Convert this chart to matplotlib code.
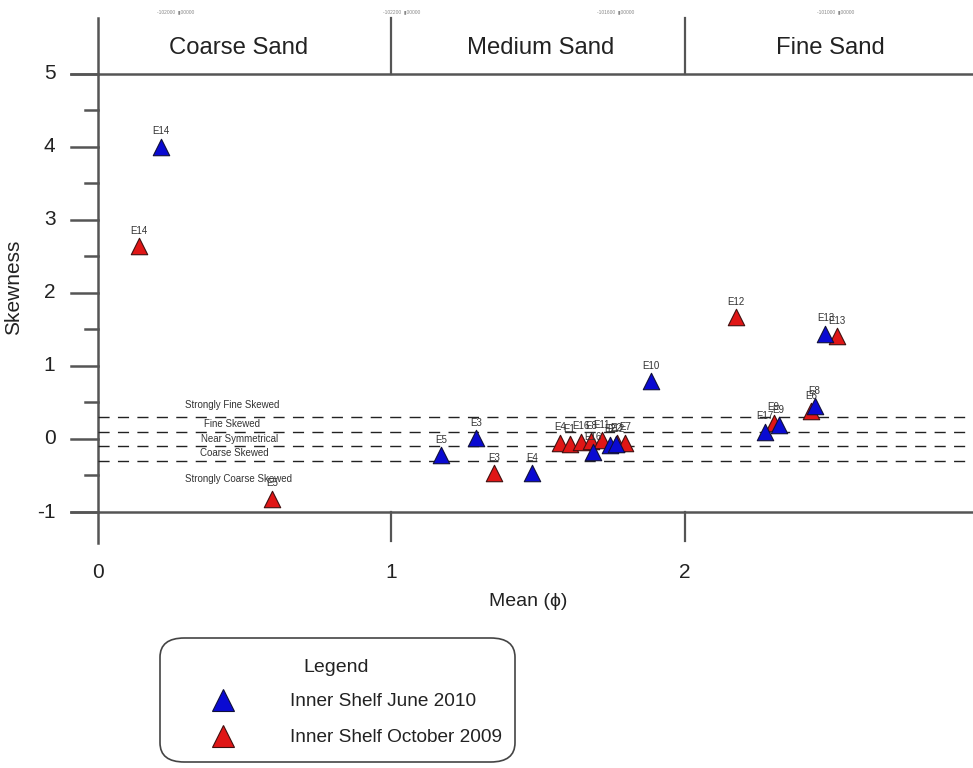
import matplotlib.pyplot as plt
from matplotlib.patches import FancyBboxPatch

plt.rcParams['font.family'] = ['Liberation Sans', 'DejaVu Sans']

# Inner Shelf June 2010
june_labels = ['E14', 'E5', 'E3', 'E4', 'E16', 'E2', 'E12', 'E10', 'E17', 'E9', 'E8', 'E13']
june_mean = [0.215, 1.169, 1.288, 1.479, 1.687, 1.745, 1.765, 1.884, 2.273, 2.32, 2.443, 2.48]
june_skew = [4.0, -0.22, 0.01, -0.47, -0.18, -0.08, -0.07, 0.79, 0.10, 0.19, 0.45, 1.44]

# Inner Shelf October 2009
oct_labels = ['E14', 'E5', 'E3', 'E4', 'E1', 'E16', 'E8', 'E11', 'E2', 'E7', 'E12', 'E9', 'E6', 'E13']
oct_mean = [0.14, 0.593, 1.349, 1.574, 1.608, 1.646, 1.68, 1.717, 1.768, 1.796, 2.174, 2.303, 2.43, 2.52]
oct_skew = [2.64, -0.82, -0.47, -0.05, -0.07, -0.04, -0.03, -0.02, -0.06, -0.05, 1.67, 0.22, 0.38, 1.41]

# skewness class boundaries and names
bounds = [0.3, 0.1, -0.1, -0.3]
class_names = ['Strongly Fine Skewed', 'Fine Skewed', 'Near Symmetrical',
               'Coarse Skewed', 'Strongly Coarse Skewed']
class_pos = [(0.296, 0.47), (0.36, 0.2), (0.352, 0.0), (0.348, -0.19), (0.296, -0.55)]

sand_names = ['Coarse Sand', 'Medium Sand', 'Fine Sand']
sand_pos = [0.48, 1.51, 2.496]
top_tags = ['-102000', '-102200', '-101600', '-101000']
top_pos = [0.2, 0.97, 1.7, 2.45]

blue = '#0a0ad2'
red = '#e01616'
axc = '#555555'
txt = '#222222'

fig = plt.figure(figsize=(9.73, 7.68), dpi=100)
ax = fig.add_axes([98 / 973, 1 - 512 / 768, 880 / 973, (512 - 18) / 768])
ax.set_xlim(0, 3)
ax.set_ylim(-1, 5.767)
for s in ax.spines.values():
    s.set_visible(False)
ax.set_xticks([])
ax.set_yticks([])

# frame lines
ax.plot([0, 0], [-1.42, 5.767], color=axc, lw=1.8, clip_on=False)
ax.plot([-0.092, 3], [-1, -1], color=axc, lw=1.8, clip_on=False)
ax.plot([-0.092, 3], [5, 5], color=axc, lw=1.8, clip_on=False)
for xv in [1, 2, 3]:
    ax.plot([xv, xv], [-1.4, -1], color=axc, lw=1.6, clip_on=False)
    ax.plot([xv, xv], [5, 5.767], color=axc, lw=1.6, clip_on=False)
for yv in range(-1, 6):
    ax.plot([-0.092, 0], [yv, yv], color=axc, lw=1.8, clip_on=False)
    ax.text(-0.145, yv, str(yv), ha='right', va='center', fontsize=15, color=txt)
for i in range(-1, 5):
    yv = i + 0.5
    ax.plot([-0.045, 0], [yv, yv], color=axc, lw=1.8, clip_on=False)
for xv in [0, 1, 2, 3]:
    ax.text(xv, -1.83, str(xv), ha='center', va='center', fontsize=15, color=txt)

ax.text(1.466, -2.23, 'Mean (\u03d5)', ha='center', va='center', fontsize=14, color=txt)
ax.text(-0.287, 2.08, 'Skewness', ha='center', va='center', rotation=90, fontsize=15,
        color=txt)

for name, xp in zip(sand_names, sand_pos):
    ax.text(xp, 5.35, name, ha='center', va='center', fontsize=17.2, color=txt)
for tag, xp in zip(top_tags, top_pos):
    ax.text(xp, 5.85, tag + '  \u25ae00000', fontsize=3.5, color='#888888', va='center')

for b in bounds:
    ax.plot([0, 3], [b, b], color='#222222', lw=1.0, dashes=(8, 6))
for name, (xp, yp) in zip(class_names, class_pos):
    ax.text(xp, yp, name, fontsize=7, color='#333333', va='center', ha='left')

ax.scatter(oct_mean, oct_skew, marker='^', s=140, c=red, edgecolors='#401010',
           linewidths=0.8, zorder=3, clip_on=False)
ax.scatter(june_mean, june_skew, marker='^', s=140, c=blue, edgecolors='#10103a',
           linewidths=0.8, zorder=3, clip_on=False)
for lab, xv, yv in zip(oct_labels, oct_mean, oct_skew):
    ax.annotate(lab, (xv, yv), xytext=(0, 9), textcoords='offset points', ha='center',
                fontsize=7, color='#333333')
for lab, xv, yv in zip(june_labels, june_mean, june_skew):
    ax.annotate(lab, (xv, yv), xytext=(0, 9), textcoords='offset points', ha='center',
                fontsize=7, color='#333333')

# legend box
box = FancyBboxPatch((160 / 973, 1 - 762 / 768), 355 / 973, 124 / 768,
                     boxstyle='round,pad=0,rounding_size=0.025', transform=fig.transFigure,
                     fill=False, ec='#444444', lw=1.2)
fig.patches.append(box)
fig.text(336 / 973, 1 - 667 / 768, 'Legend', ha='center', va='center', fontsize=14,
         color=txt)
fig.lines.append(plt.Line2D([223 / 973], [1 - 700 / 768], marker='^', ms=16, color=blue,
                            mec='#10103a', mew=0.8, transform=fig.transFigure))
fig.lines.append(plt.Line2D([223 / 973], [1 - 736 / 768], marker='^', ms=16, color=red,
                            mec='#401010', mew=0.8, transform=fig.transFigure))
fig.text(290 / 973, 1 - 702 / 768, 'Inner Shelf June 2010', va='center', fontsize=13.7,
         color=txt)
fig.text(290 / 973, 1 - 737 / 768, 'Inner Shelf October 2009', va='center', fontsize=13.7,
         color=txt)

fig.savefig('out.png', dpi=100)
